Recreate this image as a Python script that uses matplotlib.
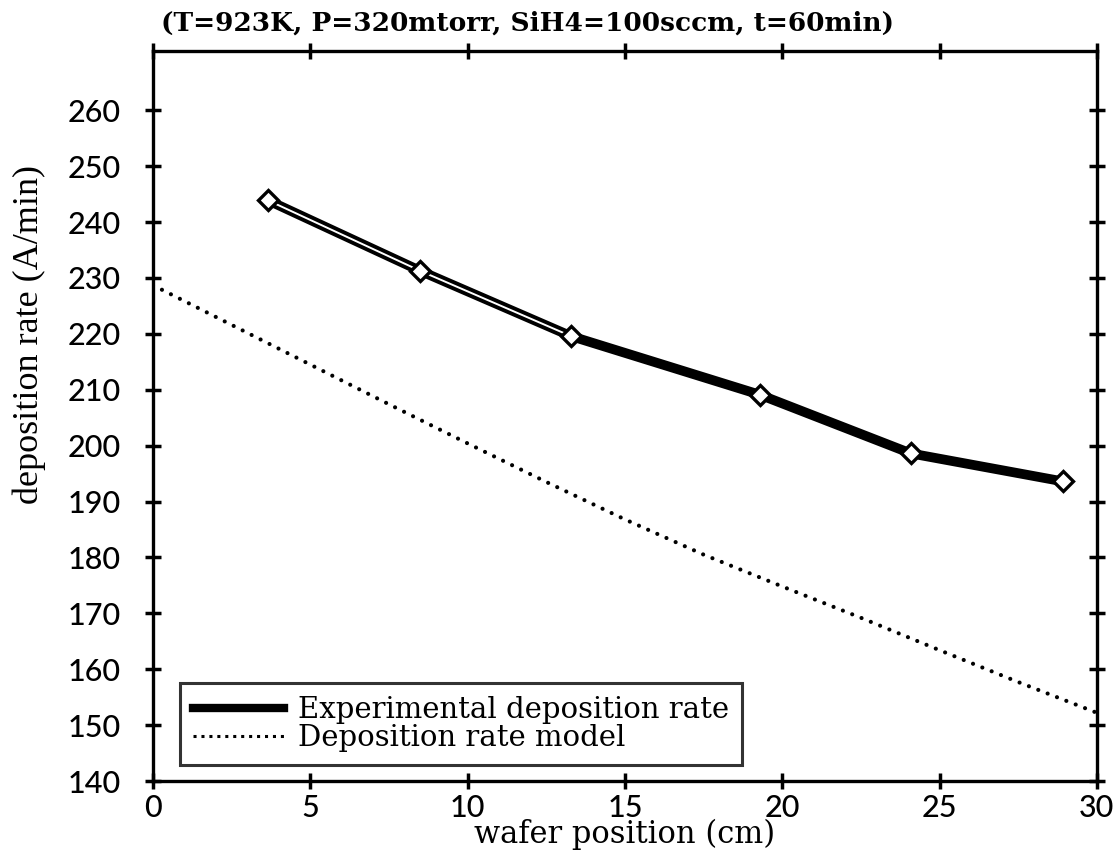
import matplotlib
matplotlib.use("Agg")
import matplotlib.pyplot as plt
from matplotlib.lines import Line2D

# Data
exp_x = [3.65, 8.48, 13.28, 19.29, 24.09, 28.92]
exp_y = [243.9, 231.3, 219.6, 209.1, 198.6, 193.6]

model_x = [0, 2.5, 5, 7.5, 10, 12.5, 15, 17.5, 20, 22.5, 25, 27.5, 30]
model_y = [228.7, 221.6, 214.5, 207.4, 200.4, 193.5, 186.8, 180.5, 174.8, 169.2, 163.4, 157.7, 152.2]

xticks = [0, 5, 10, 15, 20, 25, 30]
yticks = [140, 150, 160, 170, 180, 190, 200, 210, 220, 230, 240, 250, 260]

title = "(T=923K, P=320mtorr, SiH4=100sccm, t=60min)"
xlabel = "wafer position (cm)"
ylabel = "deposition rate (A/min)"
labels = ["Experimental deposition rate", "Deposition rate model"]

fig = plt.figure(figsize=(11.19, 8.56), dpi=100)
ax = fig.add_axes([0.1367, 0.0876, 0.9803 - 0.1367, 0.9404 - 0.0876])

# model dotted
ax.plot(model_x, model_y, color="black", lw=3.0, linestyle=(0, (0.01, 2.4)),
        dash_capstyle="round", zorder=2)

# experimental thick line
ax.plot(exp_x, exp_y, color="black", lw=7, solid_capstyle="butt",
        solid_joinstyle="round", zorder=3)
ax.plot(exp_x[:3], exp_y[:3], color="white", lw=1.4, zorder=4)
ax.plot(exp_x, exp_y, linestyle="none", marker="D", markersize=10,
        markerfacecolor="white", markeredgecolor="black", markeredgewidth=2.4, zorder=5)

ax.set_xlim(0, 30)
ax.set_ylim(140, 270.6)
ax.set_xticks(xticks)
ax.set_yticks(yticks)
ax.set_xticklabels([str(t) for t in xticks])
ax.set_yticklabels([str(t) for t in yticks])

for s in ax.spines.values():
    s.set_linewidth(2.4)
ax.tick_params(axis="both", which="both", direction="inout", length=12, width=2.5,
               top=True, right=True, labeltop=False, labelright=False,
               labelsize=22)
ax.tick_params(axis="y", pad=17)
ax.tick_params(axis="x", pad=3)
for lab in ax.get_xticklabels() + ax.get_yticklabels():
    lab.set_fontfamily("Lato")
    lab.set_fontweight("medium")

ax.set_xlabel(xlabel, fontsize=22, family="DejaVu Serif", labelpad=-2)
ax.set_ylabel(ylabel, fontsize=26, family="Liberation Serif")
ax.yaxis.set_label_coords(-0.113, 0.611)
fig.text(0.471, 0.973, title, ha="center", va="center", fontsize=19,
         family="DejaVu Serif", fontweight="bold")

handles = [Line2D([0], [0], color="black", lw=6),
           Line2D([0], [0], color="black", lw=2.2, linestyle=(0, (1, 1.6)))]
leg = ax.legend(handles, labels, loc="lower left", bbox_to_anchor=(0.0286, 0.022),
                frameon=True, fancybox=False, handlelength=3.1,
                handletextpad=0.5, borderpad=0.45, labelspacing=0.0,
                borderaxespad=0,
                prop={"family": "DejaVu Serif", "size": 21})
leg.get_frame().set_edgecolor("black")
leg.get_frame().set_linewidth(2.2)

fig.savefig("out.png", dpi=100, facecolor="white")
